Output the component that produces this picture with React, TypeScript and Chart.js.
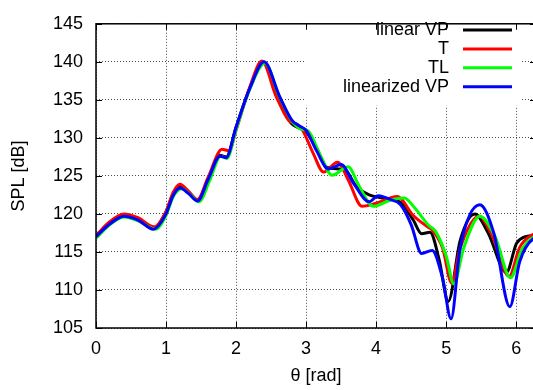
import React, { useEffect, useRef } from "react";
import { Chart, registerables } from "chart.js";

Chart.register(...registerables);

// Sound pressure level vs. angle for four source models
const linearVpTheta = [0, 0.2, 0.4, 0.6, 0.82, 1.0, 1.1, 1.2, 1.32, 1.45, 1.6, 1.77, 1.86, 2.0, 2.2, 2.4, 2.6, 2.78, 2.9, 3.0, 3.15, 3.3, 3.55, 3.72, 3.9, 4.1, 4.35, 4.53, 4.65, 4.77, 4.9, 5.03, 5.2, 5.41, 5.6, 5.86, 6.01, 6.24, 6.2832];
const linearVpSpl = [117.2, 118.9, 119.9, 119.3, 118.1, 120.3, 122.6, 123.6, 122.9, 121.8, 124.6, 127.7, 127.5, 131.4, 136.6, 139.9, 135.5, 132.0, 131.3, 130.8, 128.6, 126.1, 125.8, 123.6, 122.5, 122.1, 121.5, 119.2, 117.4, 117.6, 114.0, 108.5, 116.5, 120.0, 117.5, 112.3, 116.2, 117.2, 117.3];

const tTheta = [0, 0.2, 0.4, 0.6, 0.83, 1.0, 1.1, 1.2, 1.32, 1.45, 1.6, 1.8, 1.9, 2.0, 2.2, 2.37, 2.57, 2.75, 2.88, 2.95, 3.1, 3.25, 3.45, 3.6, 3.8, 4.0, 4.3, 4.53, 4.72, 4.8, 4.95, 5.08, 5.2, 5.47, 5.65, 5.9, 6.05, 6.24, 6.2832];
const tSpl = [117.1, 119.0, 120.0, 119.5, 118.3, 120.3, 122.8, 123.9, 123.0, 121.9, 124.8, 128.5, 128.3, 131.0, 136.8, 140.1, 135.5, 132.3, 131.7, 131.0, 128.0, 125.5, 126.8, 124.5, 121.0, 121.4, 122.3, 119.8, 118.4, 117.9, 115.5, 110.9, 115.5, 119.7, 117.3, 111.8, 115.6, 117.3, 117.4];

const tlTheta = [0, 0.2, 0.4, 0.6, 0.85, 1.0, 1.1, 1.22, 1.34, 1.47, 1.62, 1.78, 1.87, 2.0, 2.2, 2.41, 2.62, 2.8, 2.92, 3.03, 3.2, 3.37, 3.6, 3.75, 3.96, 4.2, 4.4, 4.55, 4.75, 4.85, 5.0, 5.11, 5.25, 5.48, 5.7, 5.92, 6.08, 6.24, 6.2832];
const tlSpl = [116.8, 118.6, 119.6, 119.1, 118.0, 119.8, 122.2, 123.3, 122.6, 121.6, 124.3, 127.6, 127.3, 131.1, 136.5, 139.8, 135.4, 132.2, 131.2, 130.9, 127.8, 125.1, 126.2, 123.8, 121.0, 121.8, 122.1, 120.8, 118.5, 117.7, 114.5, 110.8, 115.5, 119.7, 117.0, 111.6, 115.3, 116.9, 117.0];

const linearizedVpTheta = [0, 0.2, 0.4, 0.6, 0.82, 1.0, 1.1, 1.2, 1.32, 1.45, 1.6, 1.77, 1.86, 2.0, 2.2, 2.4, 2.62, 2.8, 2.9, 3.0, 3.15, 3.32, 3.5, 3.68, 3.9, 4.03, 4.2, 4.35, 4.5, 4.65, 4.8, 4.95, 5.07, 5.2, 5.48, 5.68, 5.91, 6.05, 6.24, 6.2832];
const linearizedVpSpl = [117.0, 118.7, 119.7, 119.2, 118.0, 120.0, 122.4, 123.4, 122.7, 121.7, 124.5, 127.6, 127.4, 131.4, 136.6, 140.0, 135.5, 132.3, 131.6, 131.0, 128.3, 125.9, 126.5, 124.0, 121.6, 122.4, 121.9, 121.2, 118.6, 114.8, 115.2, 111.5, 106.2, 115.5, 121.2, 117.5, 107.8, 113.7, 116.7, 116.8];

const seriesLabels = ["linear VP", "T", "TL", "linearized VP"];
const seriesColors = ["#000000", "#ff0000", "#00ff00", "#0000ff"];
const xTicks = [0, 1, 2, 3, 4, 5, 6];
const yTicks = [105, 110, 115, 120, 125, 130, 135, 140, 145];

const FONT = "'Liberation Sans', Arial, sans-serif";
const FONT_SIZE = 18;

const toPoints = (xs: number[], ys: number[]) => xs.map((x, i) => ({ x, y: ys[i] }));

const framePlugin = {
  id: "gnuplotFrame",
  beforeDatasetsDraw(chart: any) {
    const { ctx, chartArea } = chart;
    // opaque key area in the upper right
    ctx.save();
    ctx.fillStyle = "#ffffff";
    ctx.fillRect(306, chartArea.top, 214, 82);
    ctx.restore();
  },
  afterDraw(chart: any) {
    const { ctx, chartArea, scales } = chart;
    const { left, right, top, bottom } = chartArea;
    ctx.save();
    ctx.strokeStyle = "#000";
    ctx.lineWidth = 1.5;
    ctx.strokeRect(left, top, right - left, bottom - top);
    // inward tick marks on all four sides
    ctx.lineWidth = 1;
    ctx.beginPath();
    xTicks.forEach((t) => {
      const x = Math.round(scales.x.getPixelForValue(t)) + 0.5;
      ctx.moveTo(x, bottom);
      ctx.lineTo(x, bottom - 6);
      ctx.moveTo(x, top);
      ctx.lineTo(x, top + 6);
    });
    yTicks.forEach((t) => {
      const y = Math.round(scales.y.getPixelForValue(t)) + 0.5;
      ctx.moveTo(left, y);
      ctx.lineTo(left + 6, y);
      ctx.moveTo(right, y);
      ctx.lineTo(right - 6, y);
    });
    ctx.stroke();

    // axis titles
    ctx.fillStyle = "#000";
    ctx.font = `${FONT_SIZE}px ${FONT}`;
    ctx.textAlign = "center";
    ctx.textBaseline = "middle";
    ctx.fillText("θ [rad]", (left + right) / 2, 376);
    ctx.save();
    ctx.translate(19, (top + bottom) / 2);
    ctx.rotate(-Math.PI / 2);
    ctx.fillText("SPL [dB]", 0, 0);
    ctx.restore();

    // key
    const rows = [30, 48.9, 67.8, 86.7];
    ctx.textAlign = "right";
    ctx.lineWidth = 3;
    seriesLabels.forEach((label, i) => {
      ctx.fillStyle = "#000";
      ctx.fillText(label, 449, rows[i]);
      ctx.strokeStyle = seriesColors[i];
      ctx.beginPath();
      ctx.moveTo(463, rows[i]);
      ctx.lineTo(512, rows[i]);
      ctx.stroke();
    });
    ctx.restore();
  },
};

export default function App() {
  const canvasRef = useRef<HTMLCanvasElement | null>(null);

  useEffect(() => {
    if (!canvasRef.current) return;
    const sets = [
      toPoints(linearVpTheta, linearVpSpl),
      toPoints(tTheta, tSpl),
      toPoints(tlTheta, tlSpl),
      toPoints(linearizedVpTheta, linearizedVpSpl),
    ];
    const gridStyle = {
      color: "rgba(0,0,0,0.7)",
      lineWidth: 1,
      drawTicks: false,
    };
    const chart = new Chart(canvasRef.current, {
      type: "line",
      data: {
        datasets: sets.map((data, i) => ({
          label: seriesLabels[i],
          data,
          borderColor: seriesColors[i],
          backgroundColor: seriesColors[i],
          borderWidth: 3,
          pointRadius: 0,
          fill: false,
          cubicInterpolationMode: "monotone" as const,
          order: sets.length - 1 - i,
        })),
      },
      options: {
        responsive: false,
        animation: false,
        layout: { padding: { top: 15, left: 0, right: 0, bottom: 0 } },
        plugins: {
          legend: { display: false },
          tooltip: { enabled: false },
        },
        scales: {
          x: {
            type: "linear",
            min: 0,
            max: 2 * Math.PI,
            afterBuildTicks: (scale: any) => {
              scale.ticks = xTicks.map((value) => ({ value }));
            },
            afterFit: (scale: any) => {
              scale.height = 62;
            },
            grid: gridStyle as any,
            border: { display: false, dash: [1, 2] },
            ticks: {
              color: "#000",
              font: { family: FONT, size: FONT_SIZE },
              padding: 10,
              maxRotation: 0,
            },
          },
          y: {
            type: "linear",
            min: 105,
            max: 145,
            afterBuildTicks: (scale: any) => {
              scale.ticks = yTicks.map((value) => ({ value }));
            },
            afterFit: (scale: any) => {
              scale.width = 96;
            },
            grid: gridStyle as any,
            border: { display: false, dash: [1, 2] },
            ticks: {
              color: "#000",
              font: { family: FONT, size: FONT_SIZE },
              padding: 13,
            },
          },
        },
      },
      plugins: [framePlugin],
    });
    return () => chart.destroy();
  }, []);

  return (
    <div
      style={{
        position: "fixed",
        left: 0,
        top: 0,
        width: 533,
        height: 390,
        overflow: "hidden",
        background: "#fff",
      }}
    >
      <canvas ref={canvasRef} width={536} height={390} style={{ width: 536, height: 390 }} />
    </div>
  );
}
